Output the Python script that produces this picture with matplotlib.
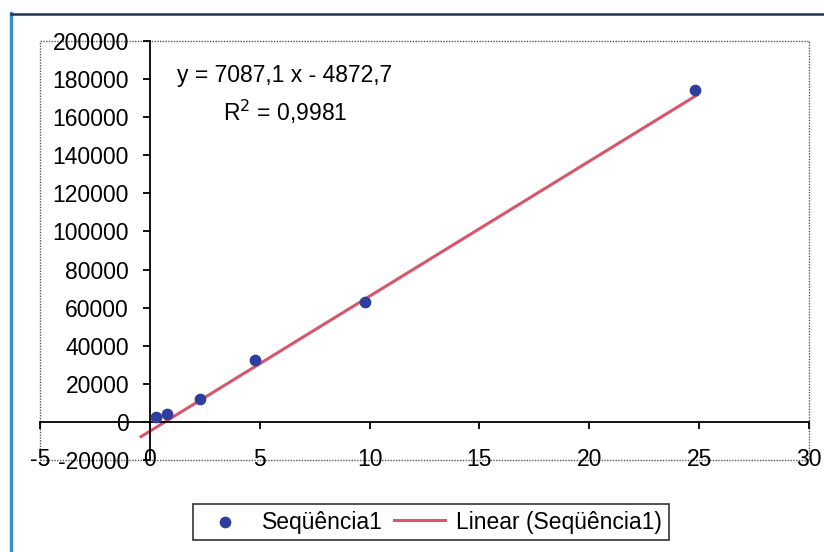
import numpy as np
import matplotlib
matplotlib.use("Agg")
import matplotlib.pyplot as plt
from matplotlib.patches import Rectangle
from matplotlib.lines import Line2D

plt.rcParams['font.family'] = ['Liberation Sans', 'DejaVu Sans']

# data
x_vals = [0.3, 0.8, 2.3, 4.8, 9.8, 24.8]
y_vals = [2600, 4200, 12000, 32500, 63000, 174500]
slope = 7087.1
intercept = -4872.7
r2 = 0.9981
trend_x = [-0.4, 24.9]
x_ticks = [-5, 0, 5, 10, 15, 20, 25, 30]
y_ticks = [-20000, 0, 20000, 40000, 60000, 80000, 100000, 120000,
           140000, 160000, 180000, 200000]
series_name = 'Seqüência1'
fs = 16.5

fig = plt.figure(figsize=(8.24, 5.52), dpi=100)
ax = fig.add_axes([40/824, 1-460/552, (809-40)/824, (460-41)/552])

tx = np.array(trend_x)
ax.plot(tx, slope*tx + intercept, color='#d8566c', lw=2.2,
        label='Linear (' + series_name + ')', zorder=2)
ax.scatter(x_vals, y_vals, s=55, color='#2f3d9c', label=series_name, zorder=3)

ax.set_xlim(-5, 30)
ax.set_ylim(-20000, 200000)

# axes cross at the origin, Excel style
for s in ['top', 'right']:
    ax.spines[s].set_visible(False)
ax.spines['left'].set_position(('data', 0))
ax.spines['bottom'].set_position(('data', 0))
ax.spines['left'].set_linewidth(1.3)
ax.spines['bottom'].set_linewidth(1.3)

ax.set_yticks(y_ticks)
ax.set_yticklabels([str(v) for v in y_ticks])
ax.tick_params(axis='y', direction='out', length=5, width=1.3, pad=10,
               labelsize=fs)
ax.set_xticks(x_ticks)
ax.set_xticklabels([])
ax.tick_params(axis='x', direction='out', length=5, width=1.3)
# x labels sit at the bottom of the plot area
for v in x_ticks:
    ax.text(v, -20000, str(v), ha='center', va='center', fontsize=fs,
            transform=ax.transData, clip_on=False)

# dotted plot-area border
ax.add_patch(Rectangle((0, 0), 1, 1, transform=ax.transAxes, fill=False,
                       edgecolor='#555555', lw=1, ls=(0, (1, 1)),
                       clip_on=False, zorder=0))

ax.text(285/824, 1-95/552,
        'y = %s x - %s\nR$^2$ = %s' % (str(slope).replace('.', ','),
                                       str(-intercept).replace('.', ','),
                                       str(r2).replace('.', ',')),
        transform=fig.transFigure, ha='center', va='center',
        multialignment='center', fontsize=fs, linespacing=1.5)

h, l = ax.get_legend_handles_labels()
leg = fig.legend(handles=h[::-1], labels=l[::-1],
                 loc='center', bbox_to_anchor=(431/824, 1-522/552), ncol=2,
                 fontsize=fs, frameon=True, fancybox=False,
                 edgecolor='black', handlelength=2.2, columnspacing=0.5,
                 handletextpad=0.5, borderpad=0.3, scatterpoints=1)
leg.get_frame().set_linewidth(1.2)

# outer chart frame
fig.add_artist(Line2D([11/824, 11/824], [0, 1-13/552], color='#3a8fd0',
                      lw=2.5, transform=fig.transFigure))
fig.add_artist(Line2D([11/824, 1], [1-14/552, 1-14/552], color='#1f3350',
                      lw=1.8, transform=fig.transFigure))

fig.savefig('out.png', dpi=100)
